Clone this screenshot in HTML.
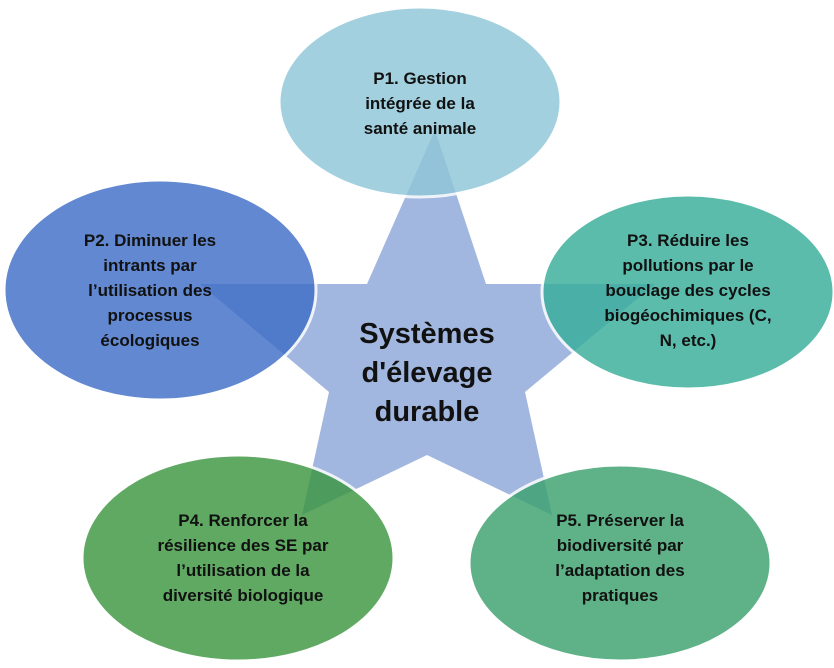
<!DOCTYPE html>
<html><head><meta charset="utf-8"><style>
body{margin:0;background:#fff}
svg text{font-family:"Liberation Sans",sans-serif;font-weight:bold;fill:#111}
</style></head><body>
<svg width="834" height="663" viewBox="0 0 834 663">
<polygon points="435,130 486,284 655,284 525,392 552,515 427,455 302,515 329,392 200,284 367,284" fill="#a1b7e0"/>
<g stroke="#fff" stroke-width="3" opacity="0.82">
<ellipse cx="420" cy="102" rx="141" ry="95" fill="#8fc6d8"/>
<ellipse cx="160" cy="290" rx="156" ry="110" fill="#3f6fc6"/>
<ellipse cx="688" cy="292" rx="146" ry="97" fill="#38ae9b"/>
<ellipse cx="238" cy="558" rx="156" ry="103" fill="#3d9741"/>
<ellipse cx="620" cy="563" rx="151" ry="98" fill="#3da26f"/>
</g>
<g font-size="17" text-anchor="middle">
<text x="420" y="84">P1. Gestion</text><text x="420" y="109">intégrée de la</text><text x="420" y="134">santé animale</text>
<text x="150" y="246">P2. Diminuer les</text><text x="150" y="271">intrants par</text><text x="150" y="296">l’utilisation des</text><text x="150" y="321">processus</text><text x="150" y="346">écologiques</text>
<text x="688" y="246">P3. Réduire les</text><text x="688" y="271">pollutions par le</text><text x="688" y="296">bouclage des cycles</text><text x="688" y="321">biogéochimiques (C,</text><text x="688" y="346">N, etc.)</text>
<text x="243" y="526">P4. Renforcer la</text><text x="243" y="551">résilience des SE par</text><text x="243" y="576">l’utilisation de la</text><text x="243" y="601">diversité biologique</text>
<text x="620" y="526">P5. Préserver la</text><text x="620" y="551">biodiversité par</text><text x="620" y="576">l’adaptation des</text><text x="620" y="601">pratiques</text>
</g>
<g font-size="29" text-anchor="middle">
<text x="427" y="343">Systèmes</text><text x="427" y="382">d'élevage</text><text x="427" y="421">durable</text>
</g>
</svg>
</body></html>
